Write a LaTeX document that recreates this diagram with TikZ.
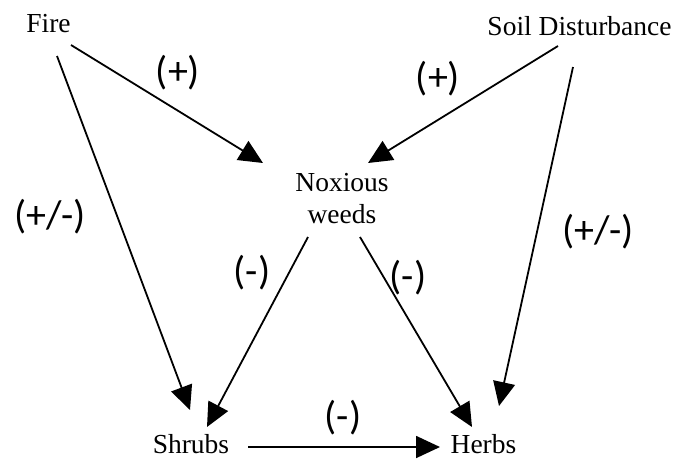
\documentclass[tikz,border=0pt]{standalone}
\usepackage{fontspec}
\setmainfont{Liberation Serif}
\newfontfamily\labfont{Carlito}
\usetikzlibrary{arrows.meta}
\tikzset{
  x=1pt, y=-1pt,
  txt/.style={inner sep=0pt, anchor=base, font=\fontsize{27.5}{32}\selectfont},
  lab/.style={inner sep=0pt, font=\labfont\fontsize{40}{44}\selectfont},
  arr/.style={line width=1.8pt, -{Triangle[length=24pt,width=22pt]}}
}
\begin{document}
\begin{tikzpicture}
\useasboundingbox (0,0) rectangle (675,459);
\node[txt] (fire) at (48.5,32) {Fire};
\node[txt] (soil) at (579.5,35) {Soil Disturbance};
\node[txt, align=center] (nox) at (342,223) {Noxious\\weeds};
\node[txt] (shrubs) at (191,453) {Shrubs};
\node[txt] (herbs) at (483.5,453) {Herbs};
% connector end points
\coordinate (fireA) at (71,45);
\coordinate (fireB) at (57,56);
\coordinate (soilA) at (558,46);
\coordinate (soilB) at (573,67);
\coordinate (noxIn1) at (263,163);
\coordinate (noxIn2) at (368,163);
\coordinate (noxOut1) at (308,237);
\coordinate (noxOut2) at (360,237);
\coordinate (shrIn1) at (190,410);
\coordinate (shrIn2) at (207,427);
\coordinate (shrOut) at (248,447);
\coordinate (herIn1) at (472,427);
\coordinate (herIn2) at (499,406);
\coordinate (herIn3) at (440,447);
\draw[arr] (fireA) -- (noxIn1);
\draw[arr] (fireB) -- (shrIn1);
\draw[arr] (soilA) -- (noxIn2);
\draw[arr] (soilB) -- (herIn2);
\draw[arr] (noxOut1) -- (shrIn2);
\draw[arr] (noxOut2) -- (herIn1);
\draw[arr] (shrOut) -- (herIn3);
\node[lab] (l1) at (178,73) {(+)};
\node[lab] (l2) at (438,79) {(+)};
\node[lab] (l3) at (50,217) {(+/-)};
\node[lab] (l4) at (598,232) {(+/-)};
\node[lab] (l5) at (252,273) {(-)};
\node[lab] (l6) at (408,278) {(-)};
\node[lab] (l7) at (343,418) {(-)};
\end{tikzpicture}
\end{document}
